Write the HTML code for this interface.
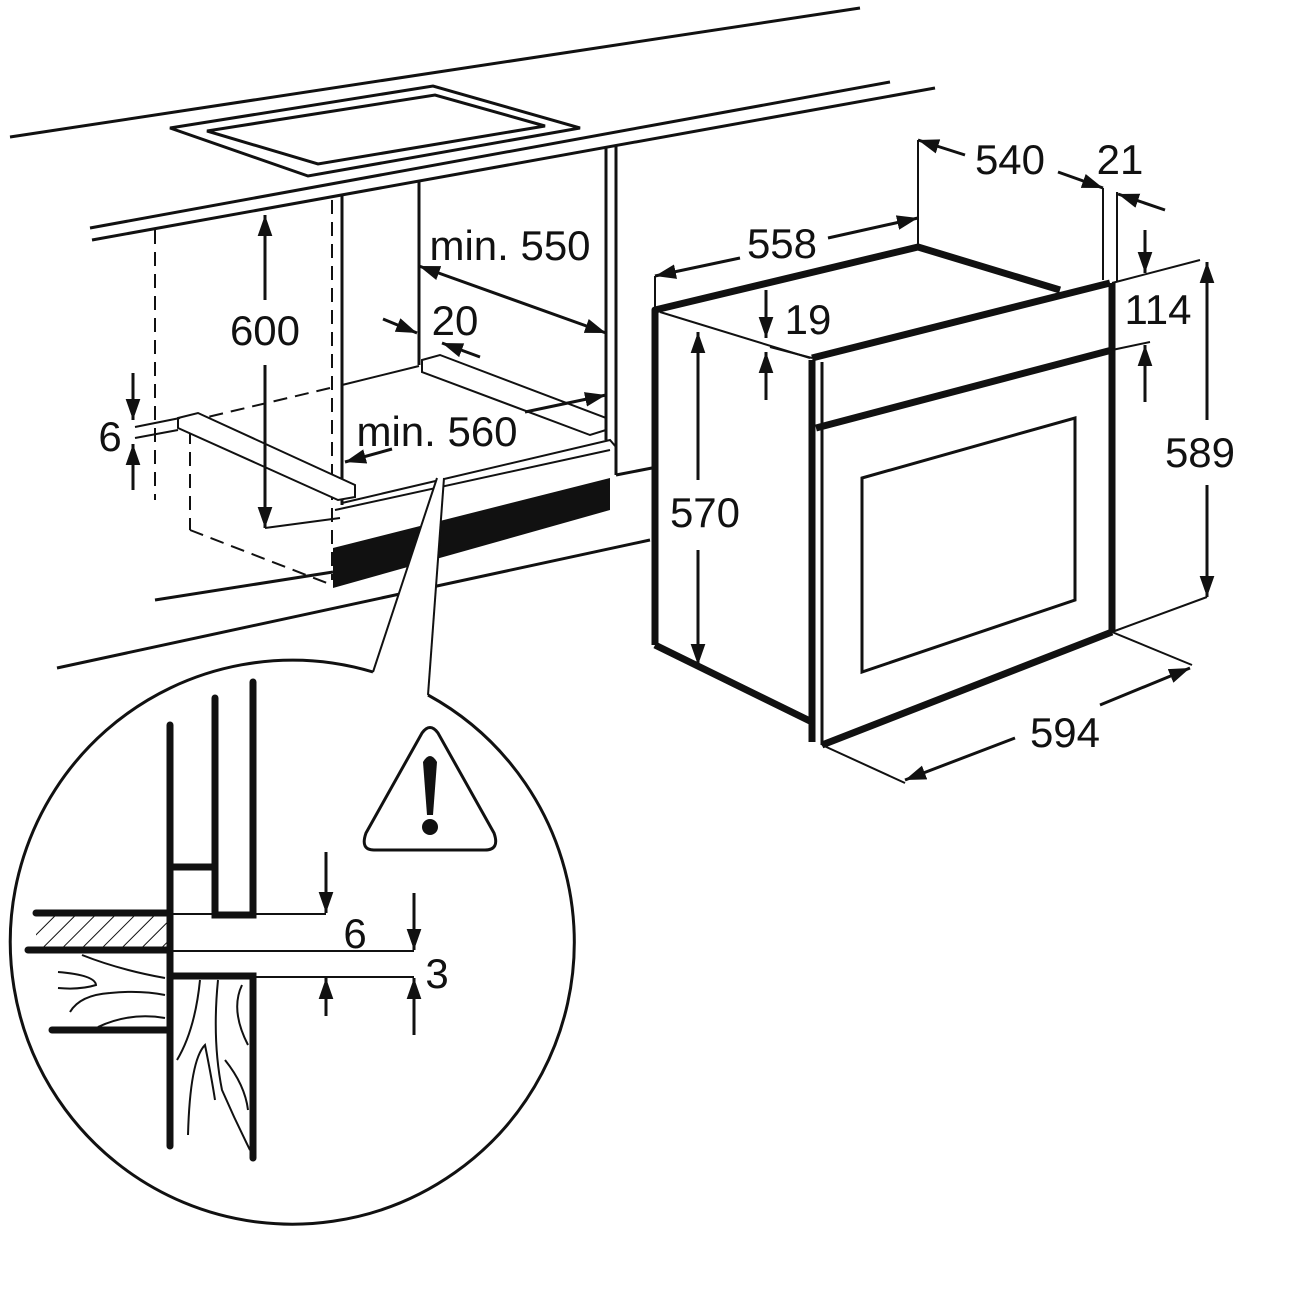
<!DOCTYPE html>
<html><head><meta charset="utf-8"><style>html,body{margin:0;padding:0;background:#fff}svg{display:block}text{font-family:"Liberation Sans",sans-serif;font-size:42px;fill:#111}</style></head><body>
<svg width="1300" height="1300" viewBox="0 0 1300 1300" xmlns="http://www.w3.org/2000/svg">
<defs>
<marker id="b" viewBox="0 0 10 10" refX="10" refY="5" markerWidth="7" markerHeight="7" orient="auto-start-reverse" markerUnits="strokeWidth"><path d="M0,1.5 L10,5 L0,8.5z" fill="#111"/></marker>
<pattern id="h" width="14" height="14" patternUnits="userSpaceOnUse" patternTransform="rotate(45)"><line x1="0" y1="0" x2="0" y2="14" stroke="#111" stroke-width="2"/></pattern>
</defs>
<g stroke="#111" fill="none" stroke-width="3">
<line x1="10" y1="137" x2="860" y2="8"/>
<line x1="90" y1="228" x2="890" y2="82"/>
<line x1="92" y1="240" x2="935" y2="88"/>
<polygon points="170,128 433,86 580,128 308,176"/>
<polygon points="207,131 435,95 545,126 318,164"/>
<line x1="342" y1="196" x2="342" y2="505"/>
<line x1="332" y1="200" x2="332" y2="580" stroke-dasharray="14,8" stroke-width="2"/>
<line x1="419" y1="180" x2="419" y2="365"/>
<line x1="606" y1="148" x2="606" y2="440"/>
<line x1="616" y1="145" x2="616" y2="475"/>
<line x1="342" y1="385" x2="419" y2="366" stroke-width="2"/>
<line x1="330" y1="388" x2="195" y2="420" stroke-dasharray="14,8" stroke-width="2"/>
<polygon points="422,360 440,355 606,418 606,430 590,435 422,372" stroke-width="2"/>
<polyline points="342,503 610,440 616,447" stroke-width="2"/>
<line x1="335" y1="510" x2="610" y2="450" stroke-width="2"/>
<polygon points="333,548 610,478 610,510 333,588" fill="#111" stroke="none"/>
<line x1="155" y1="600" x2="333" y2="572"/>
<line x1="57" y1="668" x2="650" y2="540"/>
<line x1="616" y1="475" x2="652" y2="468"/>
<line x1="155" y1="230" x2="155" y2="500" stroke-dasharray="14,8" stroke-width="2"/>
<line x1="190" y1="430" x2="190" y2="530" stroke-dasharray="14,8" stroke-width="2"/>
<line x1="190" y1="530" x2="332" y2="585" stroke-dasharray="14,8" stroke-width="2"/>
<polygon points="178,418 198,413 355,485 355,497 338,500 178,428" stroke-width="2" fill="#fff"/>
<line x1="135" y1="427" x2="180" y2="418" stroke-width="2"/>
<line x1="135" y1="438" x2="178" y2="430" stroke-width="2"/>
<line x1="265" y1="215" x2="265" y2="300" marker-start="url(#b)"/>
<line x1="265" y1="365" x2="265" y2="528" marker-end="url(#b)"/>
<line x1="265" y1="528" x2="340" y2="518" stroke-width="2"/>
<line x1="133" y1="373" x2="133" y2="420" marker-end="url(#b)"/>
<line x1="133" y1="490" x2="133" y2="444" marker-end="url(#b)"/>
<line x1="419" y1="266" x2="606" y2="333" marker-start="url(#b)" marker-end="url(#b)"/>
<line x1="383" y1="319" x2="417" y2="333" marker-end="url(#b)"/>
<line x1="480" y1="357" x2="442" y2="343" marker-end="url(#b)"/>
<line x1="392" y1="449" x2="345" y2="462" marker-end="url(#b)"/>
<line x1="525" y1="412" x2="606" y2="395" marker-end="url(#b)"/>
<polygon points="373,672 437,478 444,478 428,695" fill="#fff" stroke="none"/>
<line x1="373" y1="672" x2="437" y2="478" stroke-width="2"/>
<line x1="428" y1="695" x2="444" y2="478" stroke-width="2"/>
<g stroke-width="7" stroke-linejoin="round">
<polyline points="655,645 655,310 918,247 1060,290"/>
<line x1="655" y1="645" x2="812" y2="722"/>
<line x1="812" y1="358" x2="1110" y2="283"/>
<line x1="816" y1="428" x2="1112" y2="350"/>
<line x1="822" y1="745" x2="1112" y2="632"/>
<line x1="1112" y1="283" x2="1112" y2="632"/>
<line x1="812" y1="360" x2="812" y2="742"/>
</g>
<line x1="822" y1="362" x2="822" y2="745" stroke-width="3"/>
<line x1="660" y1="312" x2="810" y2="358" stroke-width="2"/>
<polygon points="862,478 1075,418 1075,600 862,672"/>
<line x1="698" y1="332" x2="698" y2="480" marker-start="url(#b)"/>
<line x1="698" y1="550" x2="698" y2="665" marker-end="url(#b)"/>
<line x1="766" y1="290" x2="766" y2="338" marker-end="url(#b)"/>
<line x1="766" y1="400" x2="766" y2="352" marker-end="url(#b)"/>
<line x1="770" y1="347" x2="812" y2="358" stroke-width="2"/>
<line x1="655" y1="276" x2="740" y2="258" marker-start="url(#b)"/>
<line x1="828" y1="238" x2="918" y2="218" marker-end="url(#b)"/>
<line x1="655" y1="276" x2="655" y2="308" stroke-width="2"/>
<line x1="918" y1="140" x2="918" y2="245" stroke-width="2"/>
<line x1="965" y1="155" x2="918" y2="140" marker-end="url(#b)"/>
<line x1="1058" y1="172" x2="1103" y2="188" marker-end="url(#b)"/>
<line x1="1103" y1="188" x2="1103" y2="280" stroke-width="2"/>
<line x1="1117" y1="192" x2="1117" y2="282" stroke-width="2"/>
<line x1="1165" y1="210" x2="1118" y2="194" marker-end="url(#b)"/>
<line x1="1145" y1="230" x2="1145" y2="273" marker-end="url(#b)"/>
<line x1="1145" y1="402" x2="1145" y2="345" marker-end="url(#b)"/>
<line x1="1112" y1="283" x2="1200" y2="260" stroke-width="2"/>
<line x1="1112" y1="350" x2="1150" y2="342" stroke-width="2"/>
<line x1="1207" y1="262" x2="1207" y2="420" marker-start="url(#b)"/>
<line x1="1207" y1="485" x2="1207" y2="597" marker-end="url(#b)"/>
<line x1="1112" y1="632" x2="1207" y2="597" stroke-width="2"/>
<line x1="905" y1="780" x2="1015" y2="738" marker-start="url(#b)"/>
<line x1="1100" y1="705" x2="1190" y2="668" marker-end="url(#b)"/>
<line x1="822" y1="745" x2="905" y2="783" stroke-width="2"/>
<line x1="1112" y1="632" x2="1192" y2="665" stroke-width="2"/>
<path d="M428,695 A282,282 0 1 1 373,672" stroke-width="3"/>
<rect x="36" y="913" width="134" height="37" fill="url(#h)" stroke="none"/>
<g stroke-width="7" stroke-linecap="round">
<line x1="170" y1="725" x2="170" y2="1146"/>
<polyline points="215,698 215,915 253,915 253,682"/>
<line x1="170" y1="867" x2="215" y2="867"/>
<line x1="36" y1="913" x2="170" y2="913"/>
<line x1="28" y1="950" x2="170" y2="950"/>
<polyline points="170,976 253,976 253,1158"/>
<line x1="52" y1="1030" x2="170" y2="1030"/>
</g>
<line x1="170" y1="914" x2="326" y2="914" stroke-width="2"/>
<line x1="170" y1="951" x2="414" y2="951" stroke-width="2"/>
<line x1="253" y1="977" x2="414" y2="977" stroke-width="2"/>
<line x1="326" y1="852" x2="326" y2="913" marker-end="url(#b)"/>
<line x1="326" y1="1016" x2="326" y2="978" marker-end="url(#b)"/>
<line x1="414" y1="893" x2="414" y2="950" marker-end="url(#b)"/>
<line x1="414" y1="1035" x2="414" y2="978" marker-end="url(#b)"/>
<g stroke-width="2">
<path d="M82,955 Q120,970 165,978"/>
<path d="M58,972 Q95,975 96,985 Q80,990 58,988"/>
<path d="M70,1012 Q80,995 110,993 Q140,990 165,995"/>
<path d="M98,1027 Q130,1012 165,1018"/>
<path d="M200,980 Q195,1030 177,1060"/>
<path d="M218,980 Q212,1040 222,1090 Q235,1120 250,1150"/>
<path d="M242,985 Q230,1010 248,1045"/>
<path d="M188,1135 Q190,1060 205,1045 Q212,1080 215,1100"/>
<path d="M225,1060 Q245,1085 248,1110"/>
</g>
<path d="M422,733 Q430,722 438,733 L494,833 Q500,850 485,850 L374,850 Q360,850 366,833 Z" stroke-width="3"/>
</g>
<path d="M423,762 Q430,750 437,762 L433,815 L427,815 Z" fill="#111"/>
<circle cx="430" cy="827" r="8" fill="#111"/>
<text x="265" y="345" text-anchor="middle">600</text>
<text x="110" y="451" text-anchor="middle">6</text>
<text x="510" y="260" text-anchor="middle">min. 550</text>
<text x="455" y="335" text-anchor="middle">20</text>
<text x="437" y="446" text-anchor="middle">min. 560</text>
<text x="705" y="527" text-anchor="middle">570</text>
<text x="808" y="334" text-anchor="middle">19</text>
<text x="782" y="258" text-anchor="middle">558</text>
<text x="1010" y="174" text-anchor="middle">540</text>
<text x="1120" y="174" text-anchor="middle">21</text>
<text x="1158" y="324" text-anchor="middle">114</text>
<text x="1200" y="467" text-anchor="middle">589</text>
<text x="1065" y="747" text-anchor="middle">594</text>
<text x="355" y="948" text-anchor="middle">6</text>
<text x="437" y="988" text-anchor="middle">3</text>
</svg>
</body></html>
